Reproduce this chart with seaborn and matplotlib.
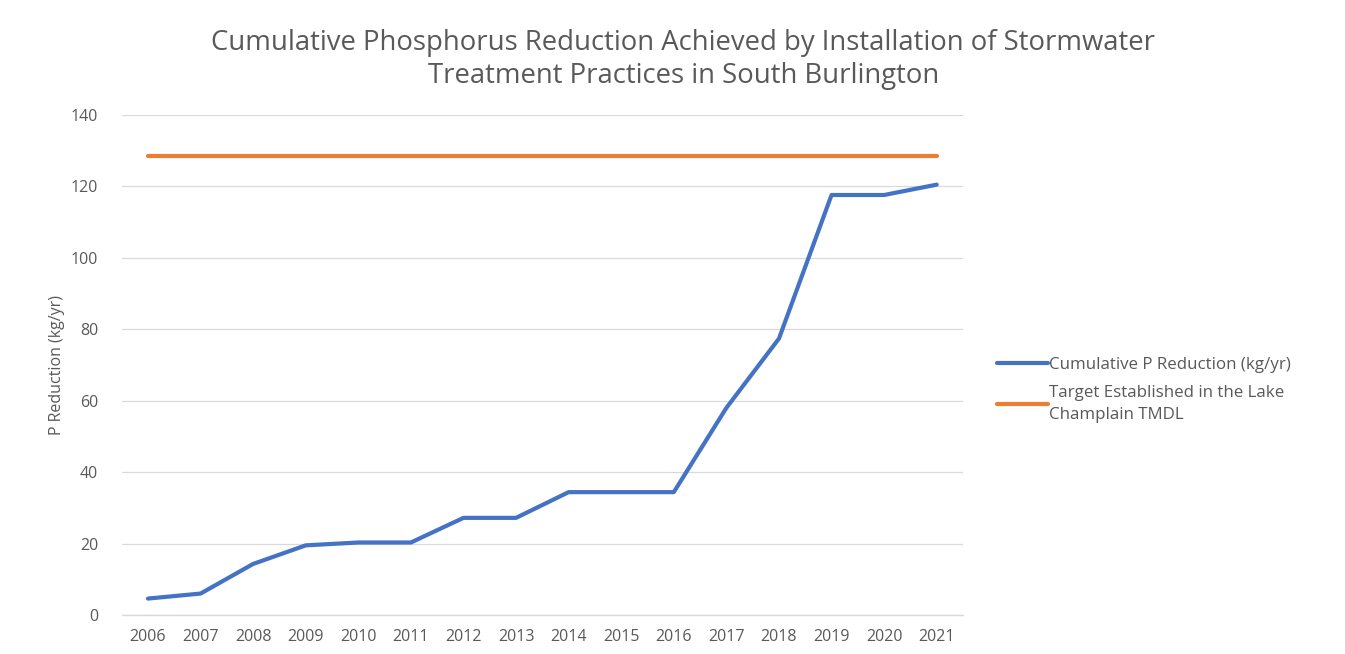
import matplotlib
matplotlib.use("Agg")
import matplotlib.pyplot as plt
import seaborn as sns
import pandas as pd

years = [2006, 2007, 2008, 2009, 2010, 2011, 2012, 2013, 2014, 2015, 2016, 2017, 2018, 2019, 2020, 2021]
cumulative = [4.6, 6.0, 14.3, 19.5, 20.3, 20.3, 27.2, 27.2, 34.4, 34.4, 34.4, 58.0, 77.4, 117.6, 117.6, 120.5]
target = [128.4] * len(years)
series_names = ["Cumulative P Reduction (kg/yr)", "Target Established in the Lake\nChamplain TMDL"]
colors = ["#4472C4", "#ED7D31"]

sns.set_theme(style="white")
plt.rcParams['font.family'] = ['Open Sans', 'DejaVu Sans']

df = pd.DataFrame({
    "pos": list(range(len(years))) * 2,
    "value": cumulative + target,
    "series": [series_names[0]] * len(years) + [series_names[1]] * len(years),
})

fig = plt.figure(figsize=(13.45, 6.54), dpi=100)
ax = fig.add_axes([121.7 / 1345, 1 - 615 / 654, (963 - 121.7) / 1345, 500 / 654])

ax.axhline(0, color="#D9D9D9", linewidth=1.0, zorder=0, clip_on=False)
sns.lineplot(data=df, x="pos", y="value", hue="series", palette=colors,
             linewidth=3, ax=ax, legend=True, sort=False)

ax.set_xlim(-0.5, len(years) - 0.5)
ax.set_ylim(0, 140)
ax.set_yticks(range(0, 141, 20))
ax.set_xticks(range(len(years)))
ax.set_xticklabels([str(y) for y in years])
ax.tick_params(axis="both", length=0, labelsize=11.5, labelcolor="#595959")
ax.tick_params(axis="x", pad=10)
ax.tick_params(axis="y", pad=17)
ax.grid(axis="y", color="#D9D9D9", linewidth=0.9)
ax.set_axisbelow(True)
for s in ax.spines.values():
    s.set_visible(False)
ax.set_xlabel("")
ax.set_ylabel("P Reduction (kg/yr)", fontsize=11.5, color="#595959", labelpad=4)

leg = ax.legend(loc="upper left", bbox_to_anchor=(1.022, 0.547), frameon=False,
                fontsize=12.2, handlelength=3.0, handletextpad=0.1, labelspacing=0.75,
                labelcolor="#595959")
for t in leg.get_texts():
    t.set_linespacing(1.45)

fig.text(0.508, 0.955, "Cumulative Phosphorus Reduction Achieved by Installation of Stormwater\nTreatment Practices in South Burlington",
         ha="center", va="top", fontsize=19.8, color="#595959", linespacing=1.2)

fig.savefig("out.png", dpi=100)
